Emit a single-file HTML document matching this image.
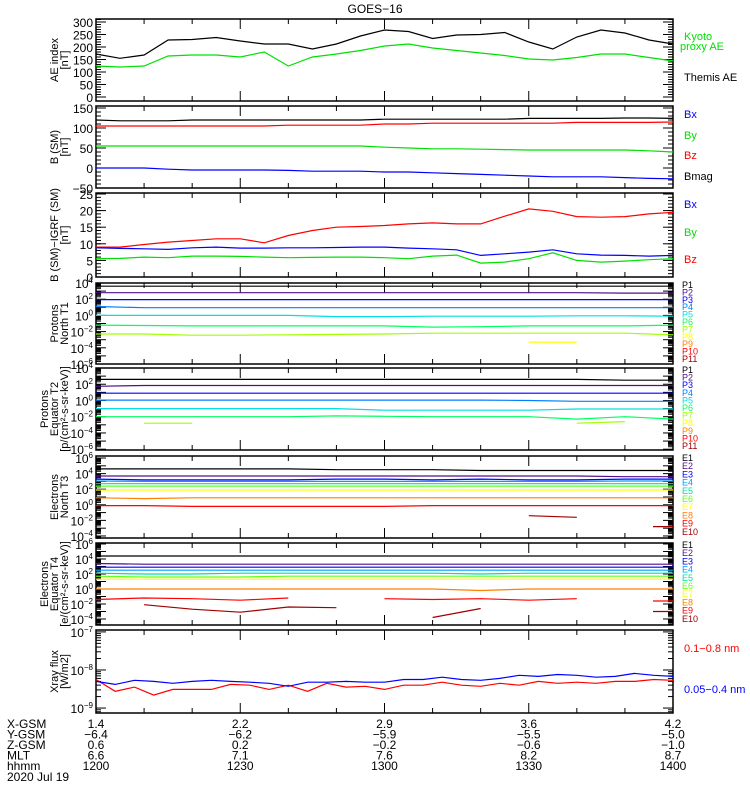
<!DOCTYPE html>
<html><head><meta charset="utf-8"><style>
html,body{margin:0;padding:0;background:#fff;}
svg{display:block;font-family:"Liberation Sans",sans-serif;}
</style></head><body>
<svg id="chart" width="750" height="800" viewBox="0 0 750 800" xmlns="http://www.w3.org/2000/svg">
<rect width="750" height="800" fill="#fff"/>
<text x="375" y="13" font-size="12" text-anchor="middle">GOES−16</text>
<g id="g"></g>
</svg>
<script>
// ---------- data ----------
const t5 = [0,5,10,15,20,25,30,35,40,45,50,55,60,65,70,75,80,85,90,95,100,105,110,115,120];
const t10 = [0,10,20,30,40,50,60,70,80,90,100,110,120];
const t4 = [0,4,8,12,16,20,24,28,32,36,40,44,48,52,56,60,64,68,72,76,80,84,88,92,96,100,104,108,112,116,120];

const themisAE = [172,155,168,228,230,238,224,212,212,192,212,244,268,262,234,248,250,258,220,192,240,268,256,228,212];
const kyotoAE  = [124,120,124,164,168,168,160,180,124,160,172,186,204,212,196,186,176,166,152,148,158,172,172,158,144];

const bMag = [120,118,118,118,120,120,120,120,120,120,120,120,122,122,122,122,122,122,124,124,124,124,125,125,124];
const bZ   = [105,105,105,105,105,105,105,105,107,107,107,107,110,110,112,112,112,112,112,112,114,114,114,114,115];
const bY   = [55,55,55,55,55,55,55,55,55,55,55,55,52,50,48,48,47,46,45,45,45,45,45,43,40];
const bX   = [0,0,0,-3,-5,-5,-5,-5,-6,-8,-8,-8,-10,-10,-12,-14,-16,-18,-20,-22,-22,-22,-24,-26,-27];

const dBz = [9,9,9.8,10.5,11,11.5,11.5,10.3,12.5,14,15,15.2,15.5,16,16.3,16,16,18.3,20.5,19.8,18.2,18,18.2,19,19.5];
const dBx = [8.8,8.6,8.5,8.3,8.8,9,8.7,8.7,8.8,8.8,8.9,9,9,8.7,8.5,8.2,6.5,7,7.5,8.2,7,6.6,6.5,6.3,6.5];
const dBy = [5.5,5.6,6,5.8,6.3,6.3,6.2,6,5.8,5.9,6,6,5.8,5.5,6.3,6.6,4.2,4.5,5.5,7.3,5,4.5,4.8,5.2,5.5];

// log10 values, 10-min grid
const pnNames = ['P1','P2','P3','P4','P5','P6','P7','P8','P9','P10','P11'];
const pn = [
 [3.6,3.6,3.6,3.6,3.6,3.6,3.6,3.6,3.6,3.6,3.6,3.6,3.6],
 [2.8,2.8,2.8,2.8,2.8,2.8,2.8,2.8,2.8,2.8,2.8,2.75,2.75],
 [1.95,1.95,1.95,1.95,1.95,1.95,1.95,1.95,1.95,1.95,1.95,1.95,1.95],
 [1.1,0.95,0.95,0.95,0.95,0.95,0.95,0.95,0.95,0.95,0.95,0.95,0.95],
 [0,0,0,0,0,-0.15,-0.15,-0.1,-0.1,-0.1,-0.05,-0.05,-0.1],
 [-1.2,-1.25,-1.3,-1.3,-1.3,-1.3,-1.3,-1.45,-1.4,-1.3,-1.3,-1.3,-1.2],
 [-2.3,-2.3,-2.45,-2.45,-2.4,-2.35,-2.3,-2.2,-2.2,-2.2,-2.2,-2.2,-2.4],
 [null,null,null,null,null,null,null,null,null,-3.3,-3.3,null,null],
 [],[],[]
];
const peNames = pnNames;
const pe = [
 [2.6,2.6,2.6,2.6,2.6,2.6,2.6,2.6,2.6,2.6,2.6,2.5,2.5],
 [1.75,1.85,1.85,1.85,1.85,1.85,1.85,1.85,1.85,1.85,1.85,1.85,1.85],
 [0.9,0.9,0.9,0.9,0.9,0.9,0.9,0.9,0.9,0.9,0.9,0.9,0.9],
 [0.05,0.05,0.05,0.05,0.05,0.05,0.05,0.05,0.05,0.0,-0.1,-0.1,-0.1],
 [-1.0,-1.0,-1.0,-1.0,-1.0,-1.0,-1.2,-1.2,-1.2,-1.2,-1.05,-1.05,-1.05],
 [-2.0,-2.0,-2.0,-2.0,-2.0,-1.9,-1.95,-2.0,-2.0,-2.0,-2.3,-2.0,-2.3],
 [null,-2.8,-2.8,null,null,null,null,null,null,null,-2.8,-2.6,null],
 [],[],[],[]
];
const enNames = ['E1','E2','E3','E4','E5','E6','E7','E8','E9','E10'];
const en = [
 [4.6,4.6,4.6,4.6,4.6,4.5,4.5,4.5,4.4,4.4,4.4,4.4,4.4],
 [3.7,3.7,3.7,3.7,3.7,3.7,3.7,3.7,3.7,3.7,3.7,3.6,3.6],
 [3.3,3.2,3.2,3.2,3.2,3.3,3.3,3.2,3.3,3.2,3.2,3.3,3.3],
 [3.05,3.0,3.0,3.0,3.0,3.0,3.0,3.0,3.0,3.0,3.0,3.05,3.05],
 [2.7,2.7,2.7,2.7,2.7,2.7,2.7,2.7,2.7,2.7,2.7,2.7,2.7],
 [2.4,2.4,2.4,2.4,2.4,2.4,2.4,2.4,2.4,2.4,2.4,2.4,2.4],
 [1.9,1.9,1.9,1.9,1.9,1.9,1.9,1.9,1.9,1.9,1.9,1.9,1.9],
 [0.9,0.8,0.9,0.9,0.9,0.9,0.9,0.9,0.9,0.9,0.9,0.9,0.9],
 [-0.1,-0.1,-0.2,-0.2,-0.2,-0.2,-0.2,-0.1,-0.1,-0.1,-0.1,-0.1,-0.1],
 [null,null,null,null,null,null,null,null,null,-1.4,-1.6,null,-2.8]
];
const ee = [
 [4.4,4.4,4.4,4.4,4.4,4.4,4.4,4.4,4.4,4.4,4.4,4.4,4.4],
 [3.4,3.3,3.3,3.3,3.3,3.3,3.3,3.3,3.3,3.3,3.3,3.3,3.3],
 [2.9,2.9,2.9,2.9,2.9,2.9,2.9,2.9,2.9,2.9,2.9,2.9,2.9],
 [2.5,2.5,2.5,2.5,2.5,2.5,2.5,2.5,2.5,2.5,2.5,2.5,2.5],
 [2.1,2.0,2.0,2.1,2.1,2.1,2.1,2.1,2.0,2.1,2.1,2.1,2.1],
 [1.7,1.6,1.6,1.6,1.7,1.7,1.7,1.7,1.7,1.7,1.7,1.7,1.7],
 [1.3,1.3,1.3,1.3,1.3,1.3,1.3,1.3,1.3,1.3,1.3,1.3,1.3],
 [0.0,0.0,0.0,0.0,0.0,0.0,0.0,0.0,-0.2,0.0,0.0,0.0,0.0],
 [-1.4,-1.2,-1.3,-1.5,-1.2,null,-1.3,-1.4,-1.3,-1.5,-1.3,null,-1.6],
 [null,-2.1,-2.7,-3.1,-2.4,-2.5,null,-3.8,-2.6,null,null,null,-3.0]
];
const xrayLong  = [-8.25,-8.56,-8.45,-8.66,-8.51,-8.51,-8.51,-8.38,-8.40,-8.51,-8.40,-8.56,-8.35,-8.45,-8.43,-8.51,-8.40,-8.40,-8.32,-8.40,-8.43,-8.35,-8.40,-8.30,-8.35,-8.32,-8.35,-8.30,-8.30,-8.25,-8.27];
const xrayShort = [-8.30,-8.38,-8.27,-8.30,-8.35,-8.30,-8.27,-8.30,-8.32,-8.35,-8.43,-8.32,-8.32,-8.30,-8.32,-8.32,-8.25,-8.25,-8.19,-8.25,-8.27,-8.22,-8.14,-8.17,-8.12,-8.14,-8.19,-8.17,-8.09,-8.14,-8.17];

const ephLabels = ['X-GSM','Y-GSM','Z-GSM','MLT','hhmm'];
const ephTimes = [0,30,60,90,120];
const ephValues = [
 ['1.4','2.2','2.9','3.6','4.2'],
 ['−6.4','−6.2','−5.9','−5.5','−5.0'],
 ['0.6','0.2','−0.2','−0.6','−1.0'],
 ['6.6','7.1','7.6','8.2','8.7'],
 ['1200','1230','1300','1330','1400']
];

// ---------- drawing ----------
const NS='http://www.w3.org/2000/svg';
const G=document.getElementById('g');
const X0=96,X1=673;
function xAt(t){return X0+(t/120)*(X1-X0);}
function mk(tag,attrs,parent){const e=document.createElementNS(NS,tag);for(const k in attrs)e.setAttribute(k,attrs[k]);(parent||G).appendChild(e);return e;}
function scale(p){return v=>p.y1-(v-p.d0)/(p.d1-p.d0)*(p.y1-p.y0);}

function line(times,vals,ys,color,name){
  let segs=[],cur=[];
  for(let i=0;i<vals.length;i++){
    if(vals[i]===null||vals[i]===undefined){if(cur.length)segs.push(cur);cur=[];continue;}
    cur.push([xAt(times[i]),ys(vals[i])]);
  }
  if(cur.length)segs.push(cur);
  segs.forEach(s=>{
    if(s.length===1){const [x,y]=s[0]; if(x+20<=X1) s.push([x+20,y]); else s.unshift([x-20,y]);}
    const el=mk('polyline',{points:s.map(p=>p[0].toFixed(1)+','+p[1].toFixed(1)).join(' '),fill:'none',stroke:color,'stroke-width':1.2});
    
    
  });
}

function panel(p){
  const ys=scale(p);
  const box=mk('rect',{x:X0,y:p.y0,width:X1-X0,height:p.y1-p.y0,fill:'none',stroke:'#000','stroke-width':1.5});
  
  
  for(let t=0;t<=120;t+=10){
    const L=(t%30===0)?10:5, x=xAt(t);
    mk('line',{x1:x,x2:x,y1:p.y1,y2:p.y1-L,stroke:'#000'});
    mk('line',{x1:x,x2:x,y1:p.y0,y2:p.y0+L,stroke:'#000'});
  }
  p.minor.forEach(v=>{const y=ys(v);if(y<p.y0-0.5||y>p.y1+0.5)return;
    mk('line',{x1:X0,x2:X0+5,y1:y,y2:y,stroke:'#000'});mk('line',{x1:X1,x2:X1-5,y1:y,y2:y,stroke:'#000'});});
  p.major.forEach((v,i)=>{const y=ys(v); if(y<p.y0-0.5||y>p.y1+0.5)return;
    mk('line',{x1:X0,x2:X0+10,y1:y,y2:y,stroke:'#000'});mk('line',{x1:X1,x2:X1-10,y1:y,y2:y,stroke:'#000'});
    const lab=p.labels[i]; if(lab===null)return;
    const tx=mk('text',{x:X0-3,y:y+5,'font-size':12,'text-anchor':'end'});
    
    
    if(p.log){
      tx.appendChild(document.createTextNode('10'));
      const s=mk('tspan',{dy:-5,'font-size':8},tx); s.textContent=lab;
    } else tx.textContent=lab;
  });
  p.title.forEach((s,i)=>{
    const cx=p.tx+i*10, cy=(p.y0+p.y1)/2;
    const tt=mk('text',{x:cx,y:cy,'font-size':11,'text-anchor':'middle',transform:`rotate(-90 ${cx} ${cy})`});
    
    
    tt.textContent=s;
  });
  return ys;
}
function range(a,b,s){const r=[];for(let v=a;v<=b+1e-9;v+=s)r.push(+v.toFixed(4));return r;}
function logMinor(a,b){const r=[];for(let d=a;d<b;d++)for(let k=2;k<10;k++)r.push(d+Math.log10(k));return r;}
function legend(x,y,txt,color,name,fs){
  const e=mk('text',{x:x,y:y,'font-size':fs||11,fill:color});
  
  
  e.textContent=txt;
}

let ys=panel({name:'ae-panel',y0:19,y1:101,d0:-16,d1:312,major:range(0,300,50),labels:range(0,300,50).map(String),minor:range(0,310,10),title:['AE index','[nT]'],tx:58});
line(t5,themisAE,ys,'#000','themis-ae-line');
line(t5,kyotoAE,ys,'#00e000','kyoto-ae-line');
legend(684,40,'Kyoto','#00e000','legend-kyoto');legend(680,50,'proxy AE','#00e000','legend-proxy-ae');
legend(684,81,'Themis AE','#000','legend-themis-ae');

ys=panel({name:'b-sm-panel',y0:106,y1:188,d0:-50,d1:155,major:range(-50,150,50),labels:range(-50,150,50).map(v=>String(v).replace('-','−')),minor:range(-50,150,10),title:['B (SM)','[nT]'],tx:58});
line(t5,bMag,ys,'#000','bmag-line');line(t5,bZ,ys,'#ff0000','bz-line');line(t5,bY,ys,'#00e000','by-line');line(t5,bX,ys,'#0000ff','bx-line');
legend(684,118,'Bx','#0000ff','legend-bx');legend(684,139,'By','#00e000','legend-by');legend(684,159,'Bz','#ff0000','legend-bz');legend(684,180,'Bmag','#000','legend-bmag');

ys=panel({name:'b-igrf-panel',y0:193,y1:277,d0:0,d1:25.3,major:range(0,25,5),labels:range(0,25,5).map(String),minor:range(0,25,1),title:['B (SM)−IGRF (SM)','[nT]'],tx:58});
line(t5,dBz,ys,'#ff0000','dbz-line');line(t5,dBx,ys,'#0000ff','dbx-line');line(t5,dBy,ys,'#00e000','dby-line');
legend(684,208,'Bx','#0000ff','legend-dbx');legend(684,236,'By','#00e000','legend-dby');legend(684,263,'Bz','#ff0000','legend-dbz');

const pColors=['#000','#50108a','#0000ff','#0080ff','#00e0e0','#00ff60','#a0ff00','#ffff00','#ff8000','#ff0000','#a00000'];
const eColors=['#000','#50108a','#0000ff','#00a0ff','#00e0a0','#60ff20','#ffff00','#ff8000','#ff0000','#a00000'];

ys=panel({name:'protons-north-panel',y0:283,y1:364,d0:-6,d1:4,log:true,major:[-6,-5,-4,-3,-2,-1,0,1,2,3,4],labels:['−6',null,'−4',null,'−2',null,'0',null,'2',null,'4'],minor:logMinor(-6,4),title:['Protons','North T1'],tx:58});
pn.forEach((s,i)=>line(t10,s,ys,pColors[i],'proton-north-'+pnNames[i].toLowerCase()));
pnNames.forEach((n,i)=>legend(682,288+i*7.4,n,pColors[i],'legend-pn-'+n.toLowerCase(),9));

ys=panel({name:'protons-equator-panel',y0:368,y1:450,d0:-6.1,d1:4,log:true,major:[-6,-5,-4,-3,-2,-1,0,1,2,3,4],labels:['−6',null,'−4',null,'−2',null,'0',null,'2',null,'4'],minor:logMinor(-6,4),title:['Protons','Equator T2','[p/(cm²-s-sr-keV)]'],tx:48});
pe.forEach((s,i)=>line(t10,s,ys,pColors[i],'proton-equator-'+peNames[i].toLowerCase()));
peNames.forEach((n,i)=>legend(682,373+i*7.6,n,pColors[i],'legend-pe-'+n.toLowerCase(),9));

ys=panel({name:'electrons-north-panel',y0:456,y1:538,d0:-4.26,d1:6.26,log:true,major:[-4,-3,-2,-1,0,1,2,3,4,5,6],labels:['−4',null,'−2',null,'0',null,'2',null,'4',null,'6'],minor:logMinor(-5,6),title:['Electrons','North T3'],tx:58});
en.forEach((s,i)=>line(t10,s,ys,eColors[i],'electron-north-'+enNames[i].toLowerCase()));
enNames.forEach((n,i)=>legend(682,461+i*8.2,n,eColors[i],'legend-en-'+n.toLowerCase(),9));

ys=panel({name:'electrons-equator-panel',y0:543,y1:625,d0:-4.8,d1:6.13,log:true,major:[-4,-3,-2,-1,0,1,2,3,4,5,6],labels:['−4',null,'−2',null,'0',null,'2',null,'4',null,'6'],minor:logMinor(-5,6),title:['Electrons','Equator T4','[e/(cm²-s-sr-keV)]'],tx:48});
ee.forEach((s,i)=>line(t10,s,ys,eColors[i],'electron-equator-'+enNames[i].toLowerCase()));
enNames.forEach((n,i)=>legend(682,548+i*8.2,n,eColors[i],'legend-ee-'+n.toLowerCase(),9));

ys=panel({name:'xray-panel',y0:630,y1:713,d0:-9.13,d1:-6.95,log:true,major:[-9,-8,-7],labels:['−9','−8','−7'],minor:logMinor(-10,-7),title:['Xray flux','[W/m2]'],tx:58});
line(t4,xrayLong,ys,'#ff0000','xray-long-line');
line(t4,xrayShort,ys,'#0000ff','xray-short-line');
legend(684,652,'0.1−0.8 nm','#ff0000','legend-xray-long');
legend(684,693,'0.05−0.4 nm','#0000ff','legend-xray-short');

ephLabels.forEach((l,r)=>{
  const y=728+r*10.5;
  legend(7,y,l,'#000','ephem-label-'+l.toLowerCase(),12);
  ephValues[r].forEach((v,c)=>{
    const e=mk('text',{x:xAt(ephTimes[c]),y:y,'font-size':12,'text-anchor':'middle'});
    
    
    e.textContent=v;
  });
});
legend(7,781,'2020 Jul 19','#000','date-label',12);
</script>
</body></html>
